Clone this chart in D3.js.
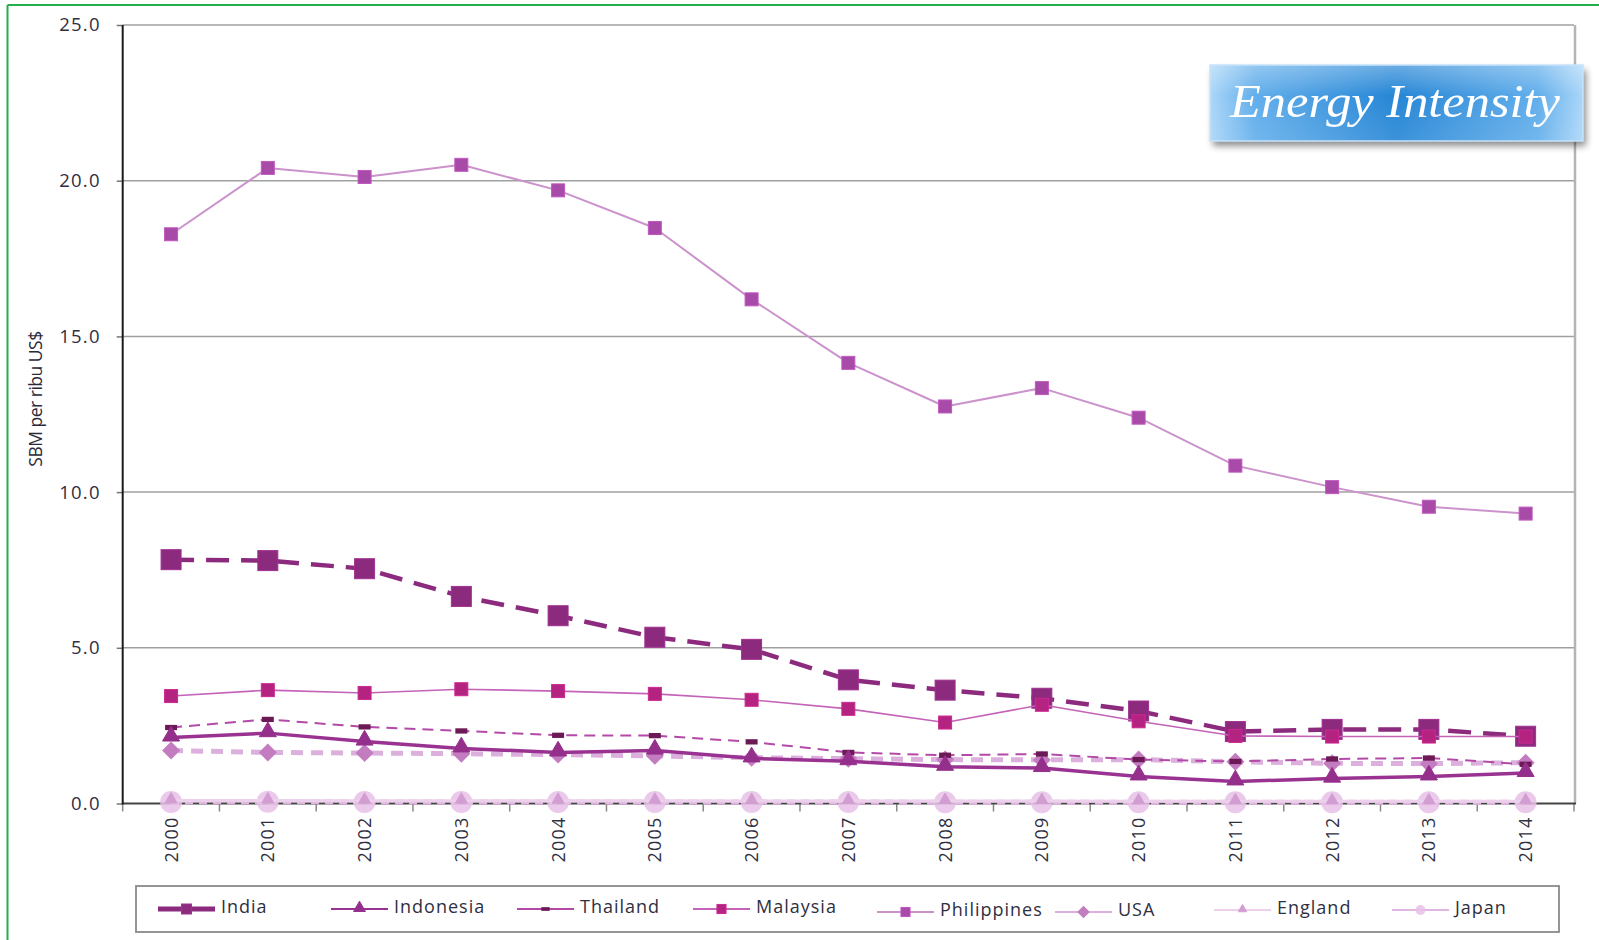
<!DOCTYPE html>
<html>
<head>
<meta charset="utf-8">
<script src="https://cdn.jsdelivr.net/npm/d3@7"></script>
<style>
  html, body { margin: 0; padding: 0; background: #ffffff; }
  svg { display: block; }
</style>
</head>
<body>
<svg id="chart" width="1599" height="940"></svg>
<script>
// Energy intensity, SBM per thousand US$, 2000–2014
const years = ["2000","2001","2002","2003","2004","2005","2006","2007","2008","2009","2010","2011","2012","2013","2014"];
const yTicks = [0, 5, 10, 15, 20, 25];
const seriesNames = ["India", "Indonesia", "Thailand", "Malaysia", "Philippines", "USA", "England", "Japan"];

const india       = [7.83, 7.80, 7.54, 6.65, 6.03, 5.34, 4.95, 3.97, 3.64, 3.38, 2.97, 2.31, 2.38, 2.38, 2.16];
const indonesia   = [2.12, 2.26, 1.99, 1.77, 1.64, 1.70, 1.45, 1.36, 1.18, 1.14, 0.87, 0.71, 0.80, 0.87, 0.98];
const thailand    = [2.44, 2.70, 2.46, 2.33, 2.19, 2.18, 1.98, 1.64, 1.55, 1.59, 1.41, 1.35, 1.43, 1.46, 1.26];
const malaysia    = [3.45, 3.64, 3.55, 3.67, 3.61, 3.52, 3.33, 3.04, 2.60, 3.17, 2.64, 2.17, 2.15, 2.15, 2.15];
const philippines = [18.28, 20.41, 20.12, 20.51, 19.69, 18.48, 16.19, 14.15, 12.75, 13.34, 12.39, 10.85, 10.16, 9.53, 9.31];
const usa         = [1.70, 1.64, 1.62, 1.60, 1.57, 1.53, 1.47, 1.44, 1.41, 1.40, 1.41, 1.34, 1.29, 1.28, 1.31];
const england     = [0.10, 0.10, 0.09, 0.09, 0.09, 0.09, 0.08, 0.08, 0.08, 0.08, 0.07, 0.07, 0.07, 0.07, 0.07];
const japan       = [0.05, 0.06, 0.05, 0.05, 0.05, 0.05, 0.05, 0.05, 0.04, 0.04, 0.04, 0.04, 0.04, 0.04, 0.04];

const valuesByName = {
  India: india, Indonesia: indonesia, Thailand: thailand, Malaysia: malaysia,
  Philippines: philippines, USA: usa, England: england, Japan: japan
};

// Drawing styles per series
const styles = {
  India:       { line: "#8c2a7e", width: 4.5, dash: "23,12", marker: "square",   size: 20, fill: "#8c2a7e", legendWidth: 5 },
  Indonesia:   { line: "#9a3292", width: 3.5, dash: null,    marker: "triangle", size: 17, fill: "#94308c", legendWidth: 2 },
  Thailand:    { line: "#b44aa8", width: 2,   dash: "11,7",  marker: "bar",      size: 12, fill: "#6c1a56", legendWidth: 2 },
  Malaysia:    { line: "#c463b8", width: 1.6, dash: null,    marker: "square",   size: 13, fill: "#b3237f", legendWidth: 2 },
  Philippines: { line: "#cc92cc", width: 2,   dash: null,    marker: "square",   size: 13, fill: "#a84ba8", legendWidth: 2 },
  USA:         { line: "#dcb0dc", width: 5,   dash: "12,8",  marker: "diamond",  size: 18, fill: "#c47cc0", legendWidth: 2 },
  England:     { line: "#ecd0ec", width: 3,   dash: null,    marker: "triangle", size: 12, fill: "#d29ed2", legendWidth: 2 },
  Japan:       { line: "#e2b6e2", width: 5,   dash: "8,6",   marker: "circle",   size: 22, fill: "#e6c0e6", legendWidth: 2 }
};
const drawOrder = ["Japan", "USA", "Thailand", "Indonesia", "India", "Malaysia", "Philippines", "England"];

const svg = d3.select("#chart");
const W = 1599, H = 940;
const plot = { left: 122.7, right: 1574, top: 25, bottom: 803.5 };

const x = d3.scaleBand().domain(years).range([plot.left, plot.right]).paddingInner(0).paddingOuter(0);
const y = d3.scaleLinear().domain([0, 25]).range([plot.bottom, plot.top]);
const cx = d => x(d) + x.bandwidth() / 2;

const defs = svg.append("defs");

// page frame in green (top and left edges)
svg.append("line").attr("x1", 7.5).attr("x2", W).attr("y1", 5).attr("y2", 5)
  .attr("stroke", "#22b04c").attr("stroke-width", 2);
svg.append("line").attr("x1", 7.5).attr("x2", 7.5).attr("y1", 5).attr("y2", H)
  .attr("stroke", "#22b04c").attr("stroke-width", 2);

// gridlines
svg.append("g").selectAll("line").data(yTicks.filter(t => t > 0)).join("line")
  .attr("x1", plot.left).attr("x2", plot.right)
  .attr("y1", d => y(d)).attr("y2", d => y(d))
  .attr("stroke", "#a0a0a0").attr("stroke-width", 1.5);

// right border of the plot
svg.append("line").attr("x1", plot.right + 1).attr("x2", plot.right + 1)
  .attr("y1", plot.top).attr("y2", plot.bottom)
  .attr("stroke", "#b4b4b4").attr("stroke-width", 2.5);

// y axis
const yAxis = d3.axisLeft(y).tickValues(yTicks).tickFormat(d3.format(".1f")).tickSize(6).tickPadding(16);
const gy = svg.append("g").attr("transform", `translate(${plot.left},0)`).call(yAxis);
gy.select(".domain").remove();
gy.selectAll(".tick line").attr("stroke", "#777").attr("stroke-width", 1.5);
gy.selectAll(".tick text")
  .attr("font-family", "'Open Sans', sans-serif").attr("font-size", 18.5)
  .attr("letter-spacing", "1.2px").attr("fill", "#2f2f3f");

// x axis: ticks sit on the category boundaries
const gx = svg.append("g").attr("transform", `translate(0,${plot.bottom})`);
const boundaries = years.map(d => x(d)).concat([plot.right]);
gx.selectAll("line.tk").data(boundaries).join("line").attr("class", "tk")
  .attr("x1", d => d).attr("x2", d => d).attr("y1", 0).attr("y2", 8)
  .attr("stroke", "#888").attr("stroke-width", 1.5);
gx.selectAll("text").data(years).join("text")
  .attr("transform", d => `translate(${cx(d) + 6.5},13) rotate(-90)`)
  .attr("text-anchor", "end")
  .attr("font-family", "'Open Sans', sans-serif").attr("font-size", 18)
  .attr("letter-spacing", "1.2px").attr("fill", "#2f2f3f")
  .text(d => d);

// axis lines
svg.append("line").attr("x1", plot.left).attr("x2", plot.right + 2)
  .attr("y1", plot.bottom).attr("y2", plot.bottom)
  .attr("stroke", "#444").attr("stroke-width", 2);
svg.append("line").attr("x1", plot.left).attr("x2", plot.left)
  .attr("y1", plot.top).attr("y2", plot.bottom + 1)
  .attr("stroke", "#1a1a1a").attr("stroke-width", 2);

// y axis title
svg.append("text")
  .attr("transform", `translate(42,399) rotate(-90)`)
  .attr("text-anchor", "middle")
  .attr("font-family", "'Open Sans', sans-serif").attr("font-size", 17.5)
  .attr("letter-spacing", "-0.5px").attr("fill", "#2a2a3a")
  .text("SBM per ribu US$");

// marker factory
function drawMarker(sel, st, scale) {
  const s = st.size * scale;
  if (st.marker === "square") {
    sel.append("rect").attr("x", -s / 2).attr("y", -s / 2).attr("width", s).attr("height", s)
      .attr("fill", st.fill).attr("stroke", d3.color(st.fill).brighter(0.4)).attr("stroke-width", 1);
  } else if (st.marker === "triangle") {
    sel.append("path").attr("d", d3.symbol(d3.symbolTriangle, Math.sqrt(3) / 4 * s * s)())
      .attr("transform", `translate(0,${-s * 0.08})`)
      .attr("fill", st.fill).attr("stroke", st.fill).attr("stroke-width", 1);
  } else if (st.marker === "bar") {
    sel.append("rect").attr("x", -s / 2).attr("y", -s * 0.22).attr("width", s).attr("height", s * 0.44)
      .attr("fill", st.fill);
  } else if (st.marker === "diamond") {
    const a = s / Math.SQRT2;
    sel.append("rect").attr("x", -a / 2).attr("y", -a / 2).attr("width", a).attr("height", a)
      .attr("transform", "rotate(45)").attr("fill", st.fill);
  } else if (st.marker === "circle") {
    sel.append("circle").attr("r", s / 2).attr("fill", st.fill).attr("opacity", 0.85);
  }
}

// series lines and markers
const lineGen = d3.line().x((d, i) => cx(years[i])).y(d => y(d));
const seriesG = svg.append("g");
drawOrder.forEach(name => {
  const st = styles[name];
  const vals = valuesByName[name];
  const g = seriesG.append("g").attr("class", "series");
  g.append("path").datum(vals)
    .attr("d", lineGen)
    .attr("fill", "none")
    .attr("stroke", st.line)
    .attr("stroke-width", st.width)
    .attr("stroke-dasharray", st.dash)
    .attr("stroke-linejoin", "round");
  g.selectAll("g.pt").data(vals).join("g").attr("class", "pt")
    .attr("transform", (d, i) => `translate(${cx(years[i])},${y(d)})`)
    .each(function () { drawMarker(d3.select(this), st, 1); });
});

// legend
const legendBox = { x: 136, y: 886, w: 1423, h: 46 };
svg.append("rect").attr("x", legendBox.x).attr("y", legendBox.y)
  .attr("width", legendBox.w).attr("height", legendBox.h)
  .attr("fill", "#fff").attr("stroke", "#8a8a8a").attr("stroke-width", 1.8);

const legendLayout = {
  India:       { x: 158, y: 909 },
  Indonesia:   { x: 331, y: 909 },
  Thailand:    { x: 517, y: 909 },
  Malaysia:    { x: 693, y: 909 },
  Philippines: { x: 877, y: 912 },
  USA:         { x: 1055, y: 912 },
  England:     { x: 1214, y: 910 },
  Japan:       { x: 1392, y: 910 }
};
seriesNames.forEach(name => {
  const st = styles[name];
  const L = legendLayout[name];
  const g = svg.append("g").attr("transform", `translate(${L.x},${L.y})`);
  g.append("line").attr("x1", 0).attr("x2", 57).attr("y1", 0).attr("y2", 0)
    .attr("stroke", st.line)
    .attr("stroke-width", st.legendWidth);
  const mg = g.append("g").attr("transform", "translate(28.5,0)");
  drawMarker(mg, st, name === "Japan" ? 0.45 : (name === "India" ? 0.5 : 0.7));
  g.append("text").attr("x", 63).attr("y", 0).attr("dy", "0.22em")
    .attr("font-family", "'Open Sans', sans-serif").attr("font-size", 18)
    .attr("letter-spacing", "1px").attr("fill", "#2f2f3f")
    .text(name);
});

// title badge
const grad = defs.append("linearGradient").attr("id", "badgeGrad")
  .attr("x1", "0%").attr("x2", "100%").attr("y1", "0%").attr("y2", "0%");
[["0%", "#a6d4f8"], ["12%", "#5aaaea"], ["50%", "#1a7fd3"], ["88%", "#5aaaea"], ["100%", "#a6d4f8"]]
  .forEach(([o, c]) => grad.append("stop").attr("offset", o).attr("stop-color", c));
const vgrad = defs.append("linearGradient").attr("id", "badgeShine")
  .attr("x1", "0%").attr("x2", "0%").attr("y1", "0%").attr("y2", "100%");
[["0%", "rgba(255,255,255,0.35)"], ["40%", "rgba(255,255,255,0.05)"], ["100%", "rgba(255,255,255,0.15)"]]
  .forEach(([o, c]) => vgrad.append("stop").attr("offset", o).attr("stop-color", c));
const shadow = defs.append("filter").attr("id", "badgeShadow")
  .attr("x", "-10%").attr("y", "-20%").attr("width", "125%").attr("height", "160%");
shadow.append("feDropShadow").attr("dx", 3).attr("dy", 5).attr("stdDeviation", 3.5)
  .attr("flood-color", "#000").attr("flood-opacity", 0.45);

const badge = { x: 1210, y: 65, w: 373, h: 76 };
svg.append("rect").attr("x", badge.x).attr("y", badge.y).attr("width", badge.w).attr("height", badge.h)
  .attr("fill", "url(#badgeGrad)").attr("filter", "url(#badgeShadow)");
svg.append("rect").attr("x", badge.x).attr("y", badge.y).attr("width", badge.w).attr("height", badge.h)
  .attr("fill", "url(#badgeShine)").attr("stroke", "#c6e4fb").attr("stroke-width", 1.5);
svg.append("text").attr("x", badge.x + 20).attr("y", 117)
  .attr("font-family", "'Liberation Serif', 'DejaVu Serif', serif").attr("font-style", "italic")
  .attr("font-size", 47).attr("fill", "#ffffff")
  .attr("textLength", 330).attr("lengthAdjust", "spacingAndGlyphs")
  .text("Energy Intensity");
</script>
</body>
</html>
